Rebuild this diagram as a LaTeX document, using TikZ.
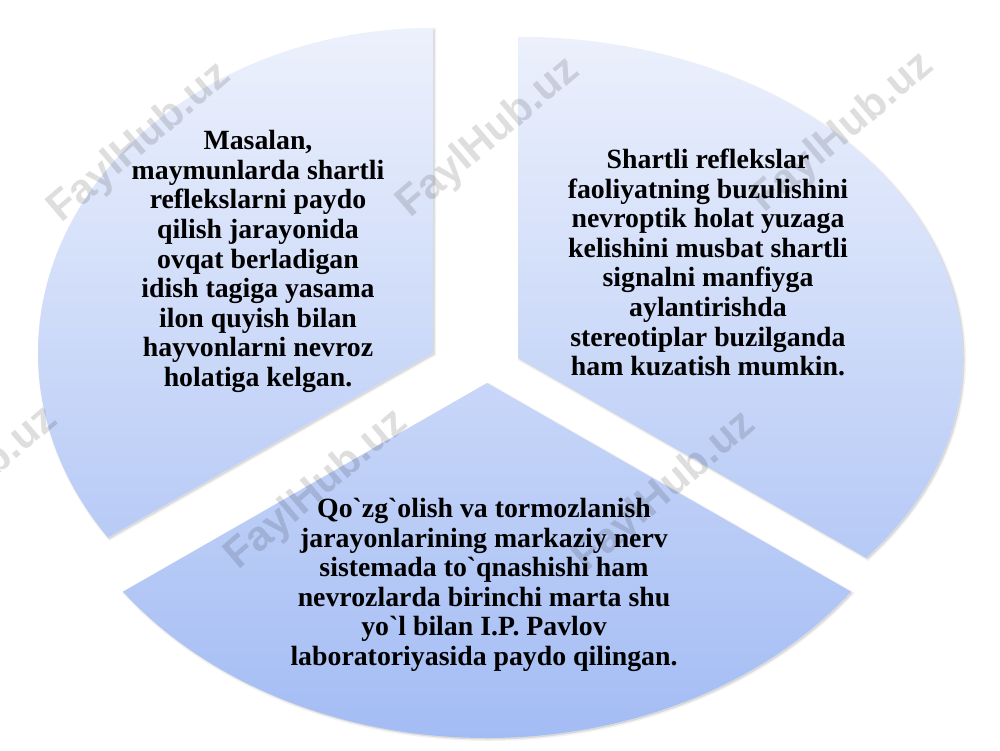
\documentclass[tikz,border=0pt]{standalone}
\usepackage{fontspec}
\setmainfont{Liberation Serif}
\newfontfamily\wmfont{Liberation Sans}
\definecolor{ctop}{RGB}{237,241,252}
\definecolor{cmid}{RGB}{198,213,248}
\definecolor{cbot}{RGB}{163,188,244}
\newcommand\sliceL{(433,397) -- ++(90:395pt and 325pt) arc[start angle=90,end angle=214.6,x radius=395pt,y radius=325pt] -- cycle}
\newcommand\sliceR{(518,392) -- ++(-38.5:445pt and 321pt) arc[start angle=-38.5,end angle=90,x radius=445pt,y radius=321pt] -- cycle}
\newcommand\sliceB{(487,367) -- ++(216:450pt and 355pt) arc[start angle=216,end angle=324,x radius=450pt,y radius=355pt] -- cycle}
\tikzset{
  txt/.style={font=\bfseries\fontsize{27.8}{29.6}\selectfont, align=center, inner sep=0pt, text=black},
  wm/.style={font=\wmfont\bfseries\fontsize{42}{42}\selectfont, text=black, text opacity=0.13, rotate=40.5, inner sep=0pt},
  shadowfill/.style={fill=black, fill opacity=0.10},
  shadowline/.style={draw=black, draw opacity=0.05, line width=3pt}
}
\begin{document}
\begin{tikzpicture}[x=1pt,y=1pt]
\useasboundingbox (0,0) rectangle (1000,750);
\clip (0,0) rectangle (1000,750);
\fill[white] (0,0) rectangle (1000,750);
% soft shadow
\begin{scope}[shift={(1.5,-1.5)}]
  \path[shadowline] \sliceL \sliceR \sliceB;
  \path[shadowfill] \sliceL \sliceR \sliceB;
\end{scope}
% slices with one vertical gradient
\begin{scope}
  \clip \sliceL \sliceR \sliceB;
  \shade[top color=ctop, middle color=cmid, bottom color=cbot] (0,10) rectangle (1000,725);
\end{scope}
% watermarks
\node[wm] (wm1) at (140,607) {FaylHub.uz};
\node[wm] (wm2) at (489,612) {FaylHub.uz};
\node[wm] (wm3) at (843,617) {FaylHub.uz};
\node[wm] (wm4) at (317,260) {FaylHub.uz};
\node[wm] (wm5) at (665,258) {FaylHub.uz};
\node[wm] (wm6) at (-33,263) {FaylHub.uz};
% texts
\node[txt] (tL) at (258,488.5) {Masalan,\\ maymunlarda shartli\\ reflekslarni paydo\\ qilish jarayonida\\ ovqat berladigan\\ idish tagiga yasama\\ ilon quyish bilan\\ hayvonlarni nevroz\\ holatiga kelgan.};
\node[txt] (tR) at (708,487.5) {Shartli reflekslar\\ faoliyatning buzulishini\\ nevroptik holat yuzaga\\ kelishini musbat shartli\\ signalni manfiyga\\ aylantirishda\\ stereotiplar buzilganda\\ ham kuzatish mumkin.};
\node[txt] (tB) at (484,165) {Qo\textasciigrave zg\textasciigrave olish va tormozlanish\\ jarayonlarining markaziy nerv\\ sistemada to\textasciigrave qnashishi ham\\ nevrozlarda birinchi marta shu\\ yo\textasciigrave l bilan I.P. Pavlov\\ laboratoriyasida paydo qilingan.};
\end{tikzpicture}
\end{document}
